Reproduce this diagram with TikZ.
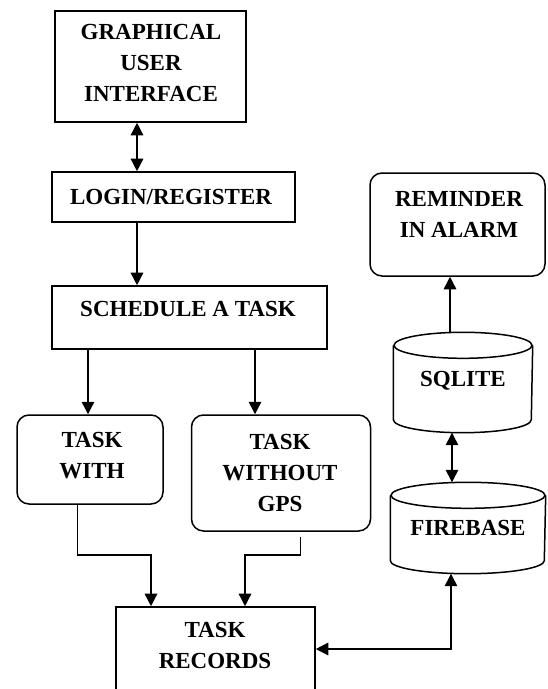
\documentclass[tikz,border=0pt]{standalone}
\usepackage{fontspec}
\setmainfont{Liberation Serif}
\usetikzlibrary{arrows.meta,calc}
\newcommand\mycyl[2]{%
  \draw[line width=1.5pt] ($(#1.north)+(0,13)$) ellipse [x radius=#2, y radius=13];
  \draw[line width=1.5pt] ($(#1.north west)+(0,13)$) -- ($(#1.south west)+(0,-13)$)
    arc[start angle=180, end angle=0, x radius=#2, y radius=13]
    -- ($(#1.north east)+(0,13)$);}
\begin{document}
\begin{tikzpicture}[x=1pt,y=-1pt, line width=1.4pt,
  box/.style={draw, line width=1.6pt, inner sep=0pt},
  rbox/.style={box, line width=1.5pt, rounded corners=12pt},
  hold/.style={inner sep=0pt},
  lbl/.style={font=\fontsize{23}{31}\selectfont\bfseries, align=center, inner sep=0pt},
  arr/.style={-{Triangle[width=12.5pt,length=12.5pt]}},
  darr/.style={{Triangle[width=12.5pt,length=12.5pt]}-{Triangle[width=12.5pt,length=12.5pt]}}]
\clip (0,0) rectangle (547,689);
\fill[white] (0,0) rectangle (547,689);
% boxes
\node[box, minimum width=191pt, minimum height=111pt] (gui) at (150.5,66.5) {};
\node[box, minimum width=243pt, minimum height=50pt] (login) at (173.5,197) {};
\node[box, minimum width=275pt, minimum height=63pt] (sched) at (189.5,317.5) {};
\node[rbox, minimum width=146pt, minimum height=89pt] (tw) at (90,459.5) {};
\node[rbox, minimum width=179pt, minimum height=116pt] (two) at (281,473) {};
\node[box, minimum width=199pt, minimum height=93pt] (rec) at (215.5,653.5) {};
\node[rbox, minimum width=175pt, minimum height=103pt] (rem) at (457.5,224.5) {};
\node[hold, minimum width=138pt, minimum height=99pt] (sql) at (463,382.5) {};
\node[hold, minimum width=154pt, minimum height=90pt] (fb) at (468,528) {};
\mycyl{sql}{69}
\mycyl{fb}{77}
% texts
\node[lbl] (guit) at (151,63) {GRAPHICAL\\USER\\INTERFACE};
\node[lbl] (logint) at (171,197) {LOGIN/REGISTER};
\node[lbl] (schedt) at (188,309) {SCHEDULE A TASK};
\node[lbl] (twt) at (92,455.5) {TASK\\WITH};
\node[lbl] (twot) at (280,472.5) {TASK\\WITHOUT\\GPS};
\node[lbl] (rect) at (215,645.5) {TASK\\RECORDS};
\node[lbl] (remt) at (459,214) {REMINDER\\IN ALARM};
\node[lbl] (sqlt) at (463,381) {SQLITE};
\node[lbl] (fbt) at (468,528) {FIREBASE};
% connectors
\coordinate (a1) at (137,0);
\draw[darr] (gui.south -| a1) -- (login.north -| a1);
\draw[arr] (login.south -| a1) -- (sched.north -| a1);
\coordinate (a2) at (88,0);
\draw[arr] (sched.south -| a2) -- (tw.north -| a2);
\coordinate (a3) at (255,0);
\draw[arr] (sched.south -| a3) -- (two.north -| a3);
\coordinate (a4) at (77.5,555);
\coordinate (a5) at (151,0);
\draw[arr] (tw.south -| a4) -- (a4) -- (a4 -| a5) -- (rec.north -| a5);
\coordinate (a6) at (300.5,555);
\coordinate (a7) at (245,0);
\draw[arr] ($(two.south -| a6)+(0,5)$) -- (a6) -- (a6 -| a7) -- (rec.north -| a7);
\coordinate (a8) at (451,649);
\draw[darr] (fb.south -| a8) -- (a8) -- (a8 -| rec.east);
\coordinate (a9) at (450,0);
\draw[arr] (sql.north -| a9) -- (rem.south -| a9);
\coordinate (a10) at (452,0);
\draw[darr] (sql.south -| a10) -- (fb.north -| a10);
\end{tikzpicture}
\end{document}
